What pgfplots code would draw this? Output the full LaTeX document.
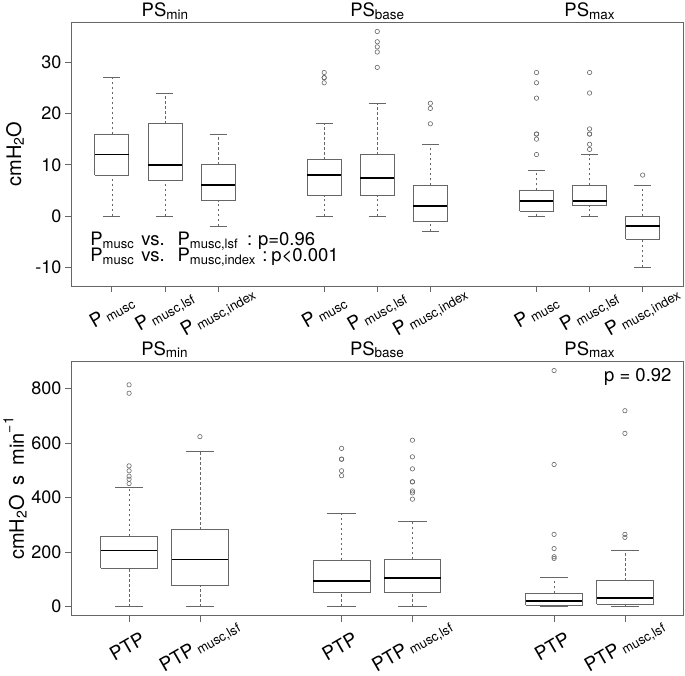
\documentclass[border=0pt]{standalone}
\usepackage{fontspec}
\setmainfont{TeX Gyre Heros}
\usepackage{graphicx}
\usepackage{pgfplots}
\pgfplotsset{compat=1.18}

\newcommand{\sub}[2][13]{\raisebox{-0.25ex}{\fontsize{#1}{#1}\selectfont #2}}
\newcommand{\lbl}[2][P]{\rotatebox{30}{\fontsize{19}{19}\selectfont #1\hspace{3pt}\sub{#2}}}
\newcommand{\ttl}[1]{\fontsize{18.5}{18.5}\selectfont PS\sub[13.5]{#1}}

\colorlet{ln}{black!60}
% one box: position, half box width, lower whisker, Q1, median, Q3, upper whisker
\newcommand{\bxp}[7]{%
  \pgfmathsetmacro\xa{#1-#2}\pgfmathsetmacro\xb{#1+#2}%
  \pgfmathsetmacro\ca{#1-#2/2}\pgfmathsetmacro\cb{#1+#2/2}%
  \addplot[ln, line width=0.7pt, dash pattern=on 2.5pt off 2.5pt] coordinates {(#1,#3) (#1,#4)};
  \addplot[ln, line width=0.7pt, dash pattern=on 2.5pt off 2.5pt] coordinates {(#1,#6) (#1,#7)};
  \addplot[ln, line width=0.8pt] coordinates {(\ca,#3) (\cb,#3)};
  \addplot[ln, line width=0.8pt] coordinates {(\ca,#7) (\cb,#7)};
  \addplot[ln, line width=0.8pt] coordinates {(\xa,#4) (\xb,#4) (\xb,#6) (\xa,#6) (\xa,#4)};
  \addplot[black, line width=1.8pt] coordinates {(\xa,#5) (\xb,#5)};
}
\pgfplotsset{
  out/.style={only marks, mark=o, mark size=2.2pt, mark options={ln, line width=0.6pt, solid}},
  frame/.style={scale only axis, clip=false, anchor=north west, width=612pt,
    axis line style={ln, line width=0.8pt}, tick style={ln, line width=0.8pt},
    tick align=outside, major tick length=6pt, xtick pos=bottom, ytick pos=left,
    /pgf/number format/assume math mode=true,
    yticklabel style={font=\fontsize{18}{18}\selectfont},
    ylabel style={at={(axis description cs:-0.0915,0.5)}, anchor=center, font=\fontsize{20}{20}\selectfont}},
}

\begin{document}
\begin{tikzpicture}
\useasboundingbox (0,0) rectangle (685pt,-675pt);

\begin{axis}[frame, at={(71pt,-22pt)}, height=264pt,
  xmin=0.23, xmax=11.76, ymin=-13.64, ymax=37.85,
  xtick={1,2,3,5,6,7,9,10,11},
  xticklabels={{\lbl{musc}},{\lbl{musc,lsf}},{\lbl{musc,index}},{\lbl{musc}},{\lbl{musc,lsf}},{\lbl{musc,index}},{\lbl{musc}},{\lbl{musc,lsf}},{\lbl{musc,index}}},
  x tick label style={anchor=center, yshift=-20pt},
  ytick={-10,0,10,20,30}, yticklabels={-10,0,10,20,30},
  ylabel={cmH\sub[14]{2}O}]
% PS min
\bxp{1}{0.32}{0}{8}{12}{16}{27}
\bxp{2}{0.32}{0}{7}{10}{18}{24}
\bxp{3}{0.32}{-2}{3}{6}{10}{16}
% PS base
\bxp{5}{0.32}{0}{4}{8}{11}{18}
\addplot[out] coordinates {(5,26) (5,27) (5,27) (5,28)};
\bxp{6}{0.32}{0}{4}{7.5}{12}{22}
\addplot[out] coordinates {(6,29) (6,32) (6,33) (6,34) (6,36)};
\bxp{7}{0.32}{-3}{-1}{2}{6}{14}
\addplot[out] coordinates {(7,18) (7,21) (7,22)};
% PS max
\bxp{9}{0.32}{0}{1}{3}{5}{9}
\addplot[out] coordinates {(9,12) (9,15) (9,16) (9,16) (9,23) (9,26) (9,28)};
\bxp{10}{0.32}{0}{2}{3}{6}{12}
\addplot[out] coordinates {(10,13) (10,14) (10,16) (10,16) (10,17) (10,24) (10,28)};
\bxp{11}{0.32}{-10}{-4.5}{-2}{0}{6}
\addplot[out] coordinates {(11,8)};

\node[anchor=base] at (axis cs:2,38.9) {\ttl{min}};
\node[anchor=base] at (axis cs:6,38.9) {\ttl{base}};
\node[anchor=base] at (axis cs:10,38.9) {\ttl{max}};

\begin{scope}[every node/.style={anchor=base west, inner sep=0pt, font=\fontsize{18.5}{18.5}\selectfont}]
\node at (axis cs:0.591,-5.79) {P\sub{musc}};
\node at (axis cs:1.552,-5.79) {vs.};
\node at (axis cs:2.235,-5.79) {P\sub{musc,lsf}};
\node at (axis cs:3.542,-5.79) {:};
\node at (axis cs:3.750,-5.79) {p=0.96};
\node at (axis cs:0.591,-8.91) {P\sub{musc}};
\node at (axis cs:1.552,-8.91) {vs.};
\node at (axis cs:2.235,-8.91) {P\sub{musc,index}};
\node at (axis cs:3.830,-8.91) {:};
\node at (axis cs:4.000,-8.91) {p<0.001};
\end{scope}
\end{axis}

\begin{axis}[frame, at={(71pt,-361.3pt)}, height=254.4pt,
  xmin=0.18, xmax=8.82, ymin=-33, ymax=899,
  xtick={1,2,4,5,7,8},
  xticklabels={{\lbl[PTP]{}},{\lbl[PTP]{musc,lsf}},{\lbl[PTP]{}},{\lbl[PTP]{musc,lsf}},{\lbl[PTP]{}},{\lbl[PTP]{musc,lsf}}},
  x tick label style={anchor=center, yshift=-25pt},
  ytick={0,200,400,600,800}, yticklabels={0,200,400,600,800},
  ylabel={cmH\sub[14]{2}O\hspace{10pt}s\hspace{10pt}min\raisebox{1.0ex}{\fontsize{14}{14}\selectfont −1}}]
% PS min
\bxp{1}{0.4}{0}{140}{206}{259}{438}
\addplot[out] coordinates {(1,451) (1,467) (1,478) (1,498) (1,516) (1,782) (1,813)};
\bxp{2}{0.4}{0}{77}{173}{282}{570}
\addplot[out] coordinates {(2,623)};
% PS base
\bxp{4}{0.4}{0}{52}{95}{171}{341}
\addplot[out] coordinates {(4,480) (4,498) (4,540) (4,541) (4,580)};
\bxp{5}{0.4}{0}{52}{106}{174}{313}
\addplot[out] coordinates {(5,394) (5,417) (5,424) (5,457) (5,458) (5,505) (5,549) (5,610)};
% PS max
\bxp{7}{0.4}{0}{5}{22}{49}{107}
\addplot[out] coordinates {(7,177) (7,183) (7,213) (7,265) (7,521) (7,865)};
\bxp{8}{0.4}{0}{9}{32}{95}{207}
\addplot[out] coordinates {(8,254) (8,265) (8,635) (8,718)};

\node[anchor=base] at (axis cs:1.5,922) {\ttl{min}};
\node[anchor=base] at (axis cs:4.5,922) {\ttl{base}};
\node[anchor=base] at (axis cs:7.5,922) {\ttl{max}};
\node[anchor=base east, inner sep=0pt, font=\fontsize{18.5}{18.5}\selectfont] at (axis cs:8.66,826.7) {p = 0.92};
\end{axis}
\end{tikzpicture}
\end{document}
